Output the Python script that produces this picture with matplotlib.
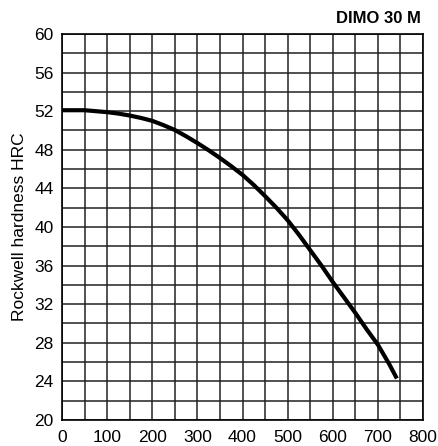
import matplotlib.pyplot as plt
from matplotlib.ticker import MultipleLocator

plt.rcParams['font.family'] = ['Liberation Sans', 'DejaVu Sans']

# tempering temperature vs hardness
temp = [0, 25, 50, 75, 100, 125, 150, 175, 200, 225, 250, 275, 300, 325, 350, 375,
        400, 425, 450, 475, 500, 525, 550, 575, 600, 625, 650, 675, 700, 725, 742]
hrc = [52.1, 52.1, 52.1, 52.0, 51.9, 51.75, 51.55, 51.3, 51.0, 50.55, 50.05, 49.4,
       48.7, 47.95, 47.15, 46.3, 45.4, 44.35, 43.2, 42.0, 40.7, 39.2, 37.6, 36.0,
       34.3, 32.7, 31.1, 29.4, 27.8, 25.8, 24.3]

fig = plt.figure(figsize=(4.38, 4.46), dpi=100)
ax = fig.add_axes([0.1416, 0.0583, 0.8242, 0.8655])

ax.set_xlim(0, 800)
ax.set_ylim(20, 60)
ax.xaxis.set_major_locator(MultipleLocator(100))
ax.xaxis.set_minor_locator(MultipleLocator(50))
ax.yaxis.set_major_locator(MultipleLocator(4))
ax.yaxis.set_minor_locator(MultipleLocator(2))
ax.grid(True, which='both', color='#222222', linewidth=1.1)
ax.set_axisbelow(True)
ax.tick_params(which='both', length=0, labelsize=12.5)
ax.tick_params(axis='x', pad=7)
ax.tick_params(axis='y', pad=6)
for s in ax.spines.values():
    s.set_linewidth(1.2)

ax.plot(temp, hrc, color='black', linewidth=3, solid_capstyle='butt',
        solid_joinstyle='round')

ax.set_ylabel('Rockwell hardness HRC', fontsize=12.5, labelpad=5)
fig.text(0.962, 0.958, 'DIMO 30 M', ha='right', va='center', fontsize=12,
         fontweight='bold')

fig.savefig('out.png', dpi=100)
